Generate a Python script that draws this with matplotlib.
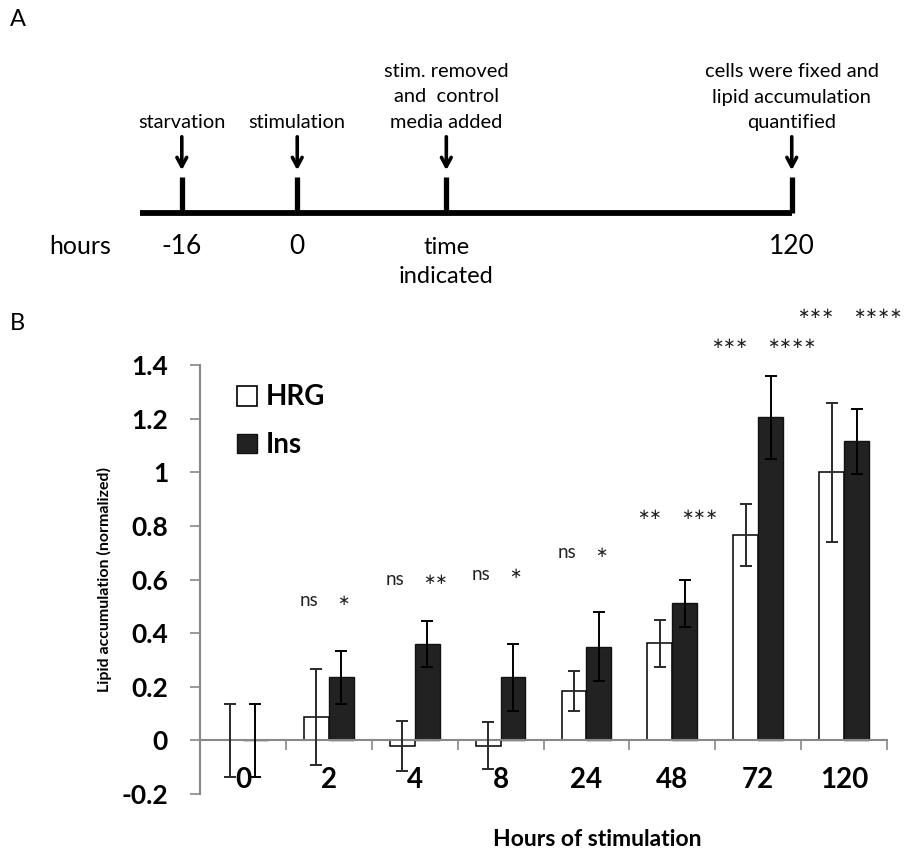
import matplotlib
matplotlib.use("Agg")
import numpy as np
import matplotlib.pyplot as plt
from matplotlib.patches import Patch

plt.rcParams['font.family'] = ['Lato', 'DejaVu Sans']
plt.rcParams['axes.unicode_minus'] = False

# panel B data
hours = ["0", "2", "4", "8", "24", "48", "72", "120"]
hrg = [0.0, 0.088, -0.02, -0.02, 0.185, 0.362, 0.765, 1.0]
hrg_err = [0.137, 0.18, 0.094, 0.087, 0.075, 0.087, 0.115, 0.26]
ins = [0.0, 0.235, 0.36, 0.235, 0.35, 0.511, 1.205, 1.115]
ins_err = [0.137, 0.1, 0.087, 0.125, 0.13, 0.087, 0.155, 0.12]
sig_hrg = ["", "ns", "ns", "ns", "ns", "**", "***", "***"]
sig_ins = ["", "*", "**", "*", "*", "***", "****", "****"]
sig_y = [0, 0.52, 0.60, 0.62, 0.70, 0.84, 1.48, 1.59]

# panel A schematic timeline (positions are fractions of figure width)
ev_pos = [0.2, 0.327, 0.491, 0.871]
ev_top = ["starvation", "stimulation", "stim. removed\nand  control\nmedia added",
          "cells were fixed and\nlipid accumulation\nquantified"]
ev_bottom = ["-16", "0", "time\nindicated", "120"]


def sig_label(ax, xpos, ypos, s, ha):
    # asterisks drawn centred, "ns" as plain text
    if "*" in s:
        ax.text(xpos, ypos, s.replace("*", "\u2217"), ha=ha, va="center",
                fontsize=10.5, color="#222222", clip_on=False)
    else:
        ax.text(xpos, ypos, s, ha=ha, va="center", fontsize=13.5, color="#222222", clip_on=False)


fig = plt.figure(figsize=(9.09, 8.52), dpi=100)

# ---------------- panel A ----------------
axa = fig.add_axes([0, 1 - 290 / 852, 1, 290 / 852])
axa.set_xlim(0, 1)
axa.set_ylim(290, 0)
axa.axis("off")
line_y = 213
axa.plot([0.154, ev_pos[-1]], [line_y, line_y], color="black", lw=4.2, solid_capstyle="butt")
for i, p in enumerate(ev_pos):
    axa.plot([p, p], [line_y, 177], color="black", lw=3.8, solid_capstyle="butt")
    axa.annotate("", xy=(p, 173), xytext=(p, 134),
                 arrowprops=dict(arrowstyle="->,head_length=0.65,head_width=0.35", lw=2.6, color="black"))
    top_lines = ev_top[i].split("\n")
    for j, t in enumerate(reversed(top_lines)):
        axa.text(p, 128 - 25.5 * j, t, ha="center", va="baseline", fontsize=14.4)
    for j, t in enumerate(ev_bottom[i].split("\n")):
        fs = 17 if "\n" in ev_bottom[i] else 19
        axa.text(p, 254 + 29 * j, t, ha="center", va="baseline", fontsize=fs)
axa.text(0.088, 254, "hours", ha="center", va="baseline", fontsize=18)
fig.text(0.011, 1 - 19 / 852, "A", fontsize=17, ha="left", va="center")

# ---------------- panel B ----------------
ax = fig.add_axes([200 / 909, 1 - 794 / 852, 687 / 909, 429 / 852])
x = np.arange(len(hours))
w = 0.29
ax.bar(x - w / 2, hrg, w, color="white", edgecolor="black", lw=1.1, label="HRG", zorder=2)
ax.bar(x + w / 2, ins, w, color="#222222", edgecolor="#111111", lw=1.0, label="Ins", zorder=2)
ax.errorbar(x - w / 2, hrg, yerr=hrg_err, fmt="none", ecolor="#2a2a2a", elinewidth=1.4,
            capsize=4.5, capthick=1.4, zorder=3)
ax.errorbar(x + w / 2, ins, yerr=ins_err, fmt="none", ecolor="black", elinewidth=1.4,
            capsize=4.5, capthick=1.4, zorder=3)

for i in range(len(hours)):
    if sig_hrg[i]:
        sig_label(ax, x[i] - 0.12, sig_y[i], sig_hrg[i], "right")
        sig_label(ax, x[i] + 0.1, sig_y[i], sig_ins[i], "left")

ax.set_xlim(-0.5, len(hours) - 0.5)
ax.set_ylim(-0.2, 1.4)
yt = np.round(np.arange(-0.2, 1.41, 0.2), 1)
ax.set_yticks(yt)
ax.set_yticklabels([f"{v:g}" for v in yt], fontsize=19, fontweight="bold")
ax.tick_params(axis="y", direction="out", length=7, width=1.2, color="#888888", pad=16)

ax.spines["top"].set_visible(False)
ax.spines["right"].set_visible(False)
ax.spines["left"].set_color("#888888")
ax.spines["left"].set_linewidth(1.5)
ax.spines["bottom"].set_position(("data", 0))
ax.spines["bottom"].set_color("#888888")
ax.spines["bottom"].set_linewidth(1.5)
ax.set_xticks(np.arange(0.5, len(hours) - 0.4, 1.0))
ax.set_xticklabels([])
ax.tick_params(axis="x", which="major", direction="out", length=7, width=1.2, color="#888888")
ax.set_xticks(x, minor=True)
ax.set_xticklabels(hours, minor=True, fontsize=20, fontweight="bold")
ax.tick_params(axis="x", which="minor", length=0, pad=19)

ax.set_ylabel("Lipid accumulation (normalized)", fontsize=11.5, fontweight="bold")
ax.yaxis.set_label_coords(-0.128, 0.5)
ax.text(0.578, -0.107, "Hours of stimulation", transform=ax.transAxes, ha="center", va="center",
        fontsize=16.5, fontweight="bold")

handles = [Patch(facecolor="white", edgecolor="black", lw=1.2),
           Patch(facecolor="#222222", edgecolor="#111111")]
ax.legend(handles, ["HRG", "Ins"], loc="upper left", bbox_to_anchor=(0.026, 1.0), frameon=False,
          prop=dict(size=20, weight="bold"), handlelength=0.72, handleheight=0.72,
          handletextpad=0.3, labelspacing=0.78, borderaxespad=0.3)

fig.text(0.011, 1 - 323 / 852, "B", fontsize=17, ha="left", va="center")

fig.savefig("out.png", dpi=100)
